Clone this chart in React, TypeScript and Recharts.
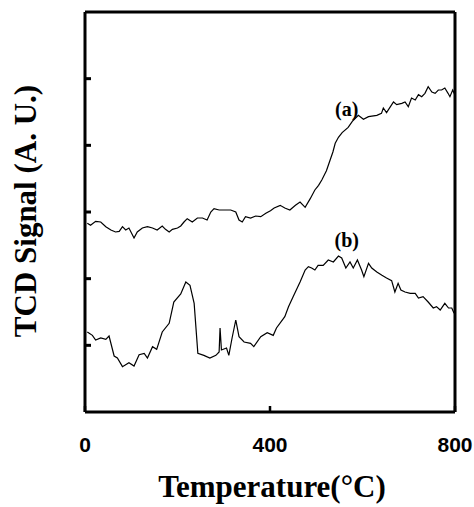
import React from "react";
import { LineChart, Line, XAxis, YAxis, ReferenceLine, ReferenceDot, Label } from "recharts";

// curve (a): temperature (°C) and TCD signal (a.u.)
const tempA = [5, 12, 23, 34, 45, 56, 66, 74, 81, 88, 95, 106, 113, 124, 135, 146, 156, 167, 174, 182, 189, 200, 207, 214, 221, 232, 243, 254, 264, 272, 279, 290, 301, 315, 326, 333, 340, 347, 358, 369, 380, 391, 401, 409, 422, 432, 443, 455, 465, 476, 487, 497, 505, 512, 522, 530, 536, 541, 548, 556, 569, 578, 591, 602, 613, 631, 641, 645, 652, 667, 674, 685, 692, 699, 706, 714, 721, 728, 735, 742, 750, 757, 764, 771, 778, 785, 789, 795, 800];
const sigA = [2.83, 2.8, 2.86, 2.85, 2.78, 2.73, 2.7, 2.71, 2.78, 2.73, 2.76, 2.61, 2.7, 2.76, 2.78, 2.76, 2.73, 2.79, 2.74, 2.7, 2.74, 2.76, 2.79, 2.85, 2.9, 2.85, 2.91, 2.91, 2.88, 3.0, 3.05, 3.03, 3.03, 3.03, 3.0, 2.88, 2.85, 2.93, 2.91, 2.94, 2.93, 2.98, 3.02, 3.06, 3.1, 3.06, 3.03, 3.1, 3.15, 3.07, 3.2, 3.33, 3.4, 3.48, 3.62, 3.78, 3.9, 4.03, 4.12, 4.19, 4.27, 4.36, 4.45, 4.39, 4.43, 4.45, 4.48, 4.56, 4.49, 4.65, 4.61, 4.63, 4.65, 4.58, 4.71, 4.68, 4.76, 4.73, 4.78, 4.88, 4.8, 4.78, 4.83, 4.83, 4.86, 4.78, 4.73, 4.83, 4.75];

// curve (b)
const tempB = [5, 16, 23, 34, 45, 52, 63, 70, 81, 95, 106, 117, 128, 135, 146, 155, 167, 182, 192, 207, 218, 227, 236, 244, 257, 270, 283, 290, 292, 295, 306, 311, 318, 326, 333, 344, 358, 365, 380, 394, 407, 414, 432, 440, 450, 465, 476, 483, 490, 497, 504, 515, 526, 537, 548, 555, 564, 573, 580, 589, 598, 603, 613, 620, 631, 642, 652, 663, 670, 677, 683, 692, 703, 714, 721, 731, 742, 753, 760, 768, 778, 786, 793, 798];
const sigB = [1.2, 1.15, 1.08, 1.11, 1.09, 1.14, 0.84, 0.81, 0.68, 0.74, 0.69, 0.86, 0.88, 0.81, 0.98, 0.94, 1.2, 1.33, 1.65, 1.77, 1.95, 1.9, 1.63, 0.88, 0.85, 0.81, 0.85, 0.9, 1.26, 0.93, 0.96, 0.85, 1.11, 1.38, 1.13, 1.05, 1.03, 0.98, 1.13, 1.19, 1.15, 1.26, 1.43, 1.58, 1.73, 1.95, 2.13, 2.18, 2.16, 2.13, 2.2, 2.2, 2.28, 2.25, 2.34, 2.31, 2.16, 2.25, 2.16, 2.28, 2.13, 2.03, 2.23, 2.16, 2.1, 2.05, 2.01, 1.97, 1.8, 1.93, 1.83, 1.8, 1.78, 1.78, 1.71, 1.73, 1.65, 1.56, 1.58, 1.53, 1.63, 1.56, 1.56, 1.48];

const xTicks = [0, 400, 800];
const yTicks = [1, 2, 3, 4, 5];

const seriesA = tempA.map((t, i) => ({ t, s: sigA[i] }));
const seriesB = tempB.map((t, i) => ({ t, s: sigB[i] }));

const XTick = (props: any) => {
  const { x, y, payload } = props;
  return (
    <g>
      <line x1={x} y1={y} x2={x} y2={y - 6} stroke="#000" strokeWidth={2.5} />
      <text x={x} y={y + 40} textAnchor="middle" fontFamily="Liberation Sans, Arial, sans-serif" fontWeight="bold" fontSize={21} fill="#000">
        {payload.value}
      </text>
    </g>
  );
};

const YTick = (props: any) => {
  const { x, y } = props;
  return <line x1={x} y1={y} x2={x + 6} y2={y} stroke="#000" strokeWidth={3} />;
};

const serif = "Liberation Serif, Times New Roman, serif";

export default function App() {
  return (
    <div style={{ position: "absolute", left: 0, top: 0, background: "#fff" }}>
      <LineChart width={474} height={507} margin={{ top: 12, right: 19, bottom: 0, left: 0 }}>
        <XAxis
          dataKey="t"
          type="number"
          domain={[0, 800]}
          ticks={xTicks}
          height={95}
          tickSize={0}
          tickMargin={0}
          tickLine={false}
          tick={<XTick />}
          axisLine={{ stroke: "#000", strokeWidth: 3 }}
          allowDuplicatedCategory={false}
        >
          <Label
            content={() => (
              <text x={272} y={497} textAnchor="middle" fontFamily={serif} fontWeight="bold" fontSize={31} fill="#000">
                Temperature(°C)
              </text>
            )}
          />
        </XAxis>
        <YAxis
          type="number"
          domain={[0, 6]}
          ticks={yTicks}
          width={85}
          tickSize={0}
          tickMargin={0}
          tickLine={false}
          tick={<YTick />}
          axisLine={{ stroke: "#000", strokeWidth: 3 }}
        >
          <Label
            content={() => (
              <text
                x={36}
                y={211}
                transform="rotate(-90, 36, 211)"
                textAnchor="middle"
                fontFamily={serif}
                fontWeight="bold"
                fontSize={31}
                fill="#000"
              >
                TCD Signal (A. U.)
              </text>
            )}
          />
        </YAxis>
        <ReferenceLine y={6} stroke="#000" strokeWidth={3} />
        <ReferenceLine x={800} stroke="#000" strokeWidth={3} />
        <Line data={seriesA} dataKey="s" type="linear" stroke="#000" strokeWidth={1.2} dot={false} isAnimationActive={false} />
        <Line data={seriesB} dataKey="s" type="linear" stroke="#000" strokeWidth={1.2} dot={false} isAnimationActive={false} />
        <ReferenceDot x={566} y={4.55} r={0} stroke="none" fill="none">
          <Label value="(a)" position="center" fontFamily={serif} fontWeight="bold" fontSize={20} fill="#000" />
        </ReferenceDot>
        <ReferenceDot x={566} y={2.58} r={0} stroke="none" fill="none">
          <Label value="(b)" position="center" fontFamily={serif} fontWeight="bold" fontSize={20} fill="#000" />
        </ReferenceDot>
      </LineChart>
    </div>
  );
}
